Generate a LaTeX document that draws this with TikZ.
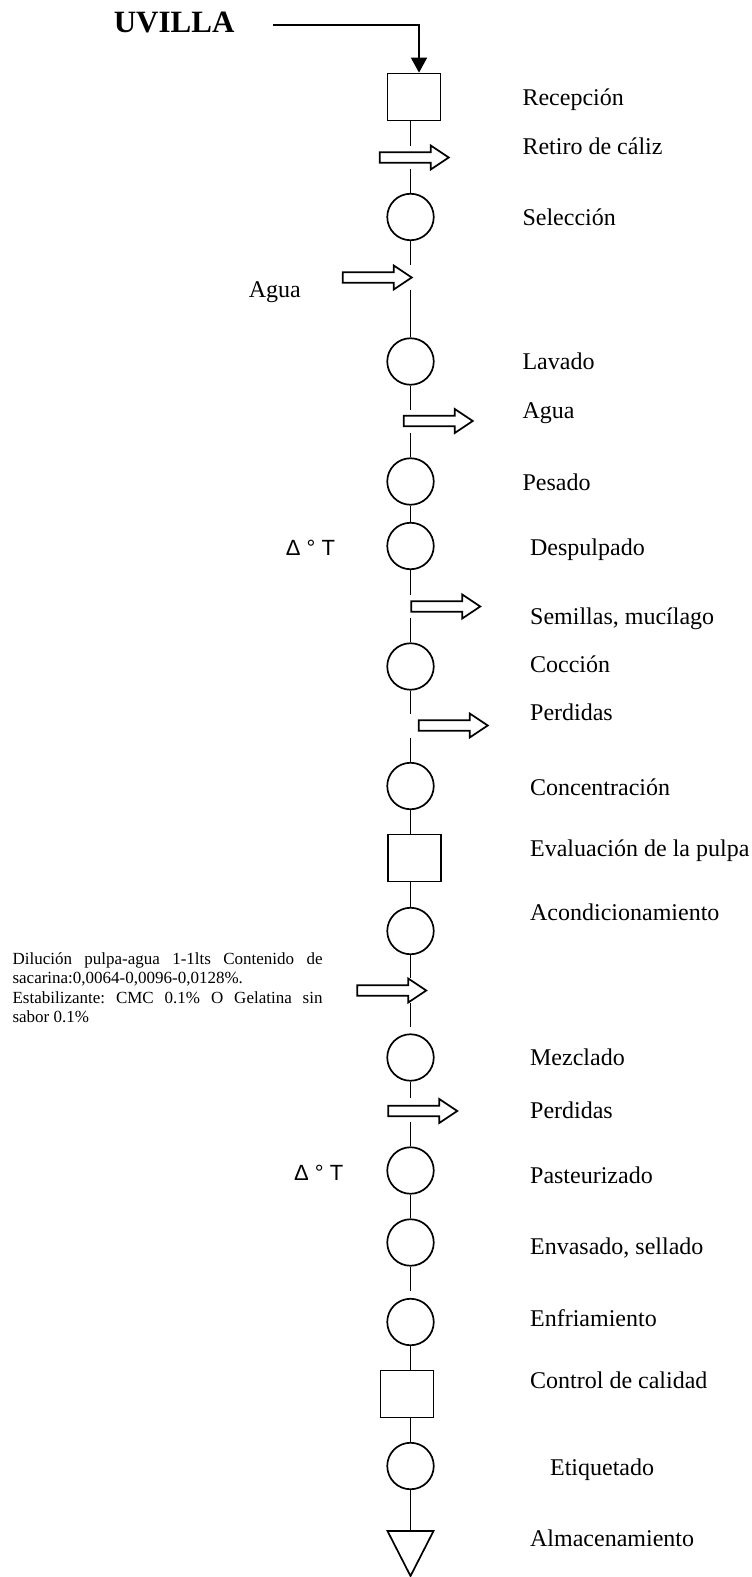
\documentclass[tikz,border=0pt]{standalone}
\usepackage{fontspec}
\setmainfont{Liberation Serif}
\newfontfamily\deltafont{Liberation Sans}
\usetikzlibrary{arrows.meta,calc}
\frenchspacing
\tikzset{
  stage/.style={circle, draw, inner sep=0pt, minimum size=23.25pt},
  checkbox/.style={rectangle, draw, inner sep=0pt, minimum width=26.5pt, minimum height=23.5pt},
  lbl/.style={anchor=base west, inner sep=0pt, font=\fontsize{12}{14}\selectfont},
  notelbl/.style={anchor=base west, inner sep=0pt, font=\fontsize{8.5}{10}\selectfont},
  dlt/.style={anchor=base west, inner sep=0pt, font=\deltafont\fontsize{11}{13}\selectfont},
  pics/blockarrow/.style={code={
    \draw[fill=white] (0,-5.25) -- (51,-5.25) -- (51,-12) -- (69,0) -- (51,12)
      -- (51,5.25) -- (0,5.25) -- cycle;}}
}
\begin{document}
\begin{tikzpicture}[x=0.5pt, y=-0.5pt, line width=0.85pt]
\useasboundingbox (0,0) rectangle (751,1577);

% title
\node[anchor=base west, inner sep=0pt, font=\bfseries\fontsize{15.5}{17}\selectfont] (uvilla) at (113,33) {UVILLA};

% process steps
\node[checkbox] (rec)  at (414,97)     {};
\node[stage]    (sel)  at (410.5,217)  {};
\node[stage]    (lav)  at (410.5,361.5){};
\node[stage]    (pes)  at (410.5,481.5){};
\node[stage]    (desp) at (410.5,546)  {};
\node[stage]    (coc)  at (410.5,666.5){};
\node[stage]    (con)  at (410.5,786)  {};
\node[checkbox] (eva)  at (414.5,858)  {};
\node[stage]    (aco)  at (410.5,931)  {};
\node[stage]    (mez)  at (410.5,1057.5){};
\node[stage]    (pas)  at (410.5,1170.5){};
\node[stage]    (env)  at (410.5,1242.5){};
\node[stage]    (enf)  at (410.5,1322) {};
\node[checkbox] (ctl)  at (407,1394)   {};
\node[stage]    (eti)  at (410.5,1466) {};

% storage triangle
\coordinate (alm) at (410.5,1531);
\draw (387.5,1531) -- (433.5,1531) -- (410.5,1576) -- cycle;

% raw material input
\coordinate (src) at (273,25);
\draw[-{Triangle[width=8pt,length=7.5pt]}] (src) -| ($(rec.north)+(5,0)$);

% gaps in the main line where streams enter or leave
\coordinate (g1a) at (410.5,146);  \coordinate (g1b) at (410.5,169);
\coordinate (g2a) at (410.5,265);  \coordinate (g2b) at (410.5,290);
\coordinate (g3a) at (410.5,410);  \coordinate (g3b) at (410.5,433);
\coordinate (g4a) at (410.5,595);  \coordinate (g4b) at (410.5,618);
\coordinate (g5a) at (410.5,714);  \coordinate (g5b) at (410.5,738);
\coordinate (g6a) at (410.5,978);  \coordinate (g6b) at (410.5,1003);
\coordinate (g6c) at (410.5,1027);
\coordinate (g7a) at (410.5,1098); \coordinate (g7b) at (410.5,1122);
\coordinate (g8)  at (410.5,1291);

% main flow line
\draw (sel.north |- rec.south) -- (g1a);
\draw (g1b) -- (sel.north);
\draw (sel.south) -- (g2a);
\draw (g2b) -- (lav.north);
\draw (lav.south) -- (g3a);
\draw (g3b) -- (pes.north);
\draw (pes.south) -- (desp.north);
\draw (desp.south) -- (g4a);
\draw (g4b) -- (coc.north);
\draw (coc.south) -- (g5a);
\draw (g5b) -- (con.north);
\draw (con.south) -- (con.south |- eva.north);
\draw (aco.north |- eva.south) -- (aco.north);
\draw (aco.south) -- (g6a);
\draw (g6b) -- (g6c);
\draw (mez.south) -- (g7a);
\draw (g7b) -- (pas.north);
\draw (pas.south) -- (env.north);
\draw (env.south) -- (g8);
\draw (enf.south) -- (enf.south |- ctl.north);
\draw (eti.north |- ctl.south) -- (eti.north);
\draw (eti.south) -- (alm);

% side streams
\pic at (379.75,157.5) {blockarrow};
\pic at (342.75,277.5) {blockarrow};
\pic at (403.75,421)   {blockarrow};
\pic at (411.25,606.5) {blockarrow};
\pic at (418.75,725.5) {blockarrow};
\pic at (357.25,990.5) {blockarrow};
\pic at (388.25,1111)  {blockarrow};

% step names
\node[lbl] (t-rec)  at (521.7,105.7)  {Recepción};
\node[lbl] (t-ret)  at (521.7,154.3)  {Retiro de cáliz};
\node[lbl] (t-sel)  at (521.7,225.7)  {Selección};
\node[lbl] (t-lav)  at (521.7,370)    {Lavado};
\node[lbl] (t-ag2)  at (521.7,418.3)  {Agua};
\node[lbl] (t-pes)  at (521.7,490)    {Pesado};
\node[lbl] (t-desp) at (529.3,555)    {Despulpado};
\node[lbl] (t-sem)  at (529.3,624.3)  {Semillas, mucílago};
\node[lbl] (t-coc)  at (529.3,672.7)  {Cocción};
\node[lbl] (t-per1) at (529.3,720)    {Perdidas};
\node[lbl] (t-con)  at (529.3,795)    {Concentración};
\node[lbl] (t-eva)  at (529.3,856)    {Evaluación de la pulpa};
\node[lbl] (t-aco)  at (529.3,920)    {Acondicionamiento};
\node[lbl] (t-mez)  at (529.3,1065)   {Mezclado};
\node[lbl] (t-per2) at (529.3,1118.3) {Perdidas};
\node[lbl] (t-pas)  at (529.3,1183.3) {Pasteurizado};
\node[lbl] (t-env)  at (529.3,1254)   {Envasado, sellado};
\node[lbl] (t-enf)  at (529.3,1326)   {Enfriamiento};
\node[lbl] (t-ctl)  at (529.3,1388.3) {Control de calidad};
\node[lbl] (t-eti)  at (549.3,1475)   {Etiquetado};
\node[lbl] (t-alm)  at (529.3,1546.7) {Almacenamiento};

% inputs on the left
\node[lbl] (t-ag1) at (248,298) {Agua};
\node[dlt] (dt1) at (285,555)    {Δ ° T};
\node[dlt] (dt2) at (293.3,1180) {Δ ° T};

\node[notelbl] (n1) at (11.7,964)    {\makebox[155pt][s]{Dilución pulpa-agua 1-1lts Contenido de}};
\node[notelbl] (n2) at (11.7,983.5)  {sacarina:0,0064-0,0096-0,0128\%.};
\node[notelbl] (n3) at (11.7,1003)   {\makebox[155pt][s]{Estabilizante: CMC 0.1\% O Gelatina sin}};
\node[notelbl] (n4) at (11.7,1022.5) {sabor 0.1\%};
\end{tikzpicture}
\end{document}
